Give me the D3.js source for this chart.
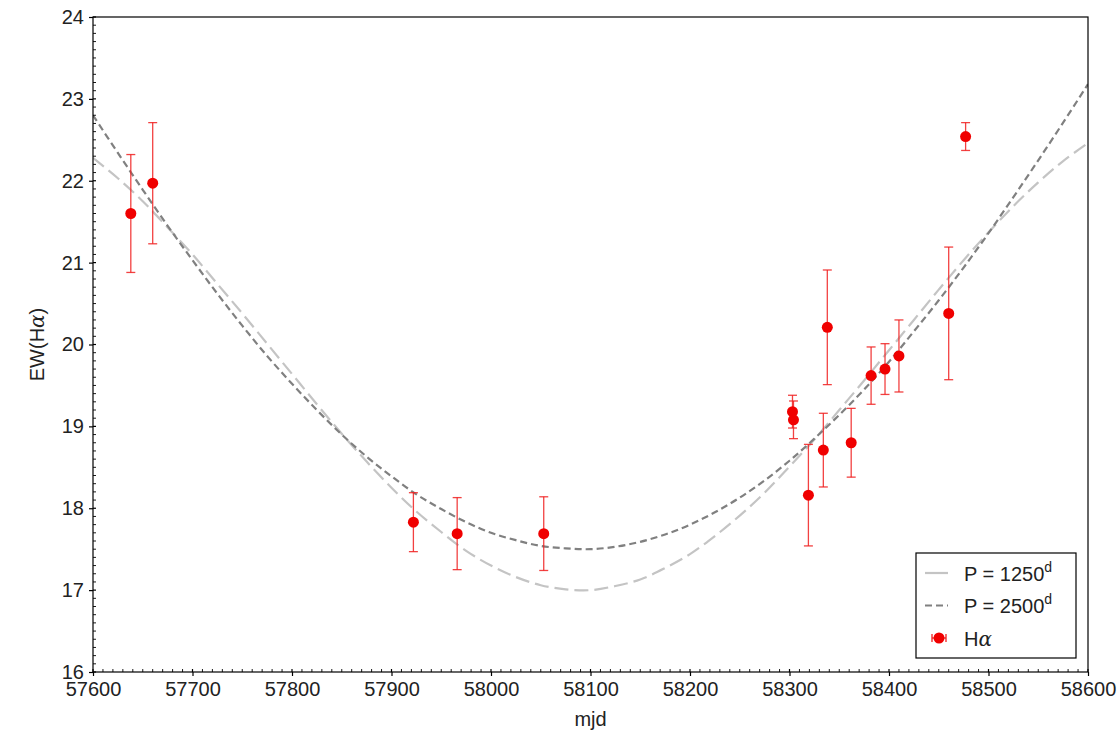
<!DOCTYPE html>
<html>
<head>
<meta charset="utf-8">
<script src="https://cdn.jsdelivr.net/npm/d3@7"></script>
<style>
  html, body { margin: 0; padding: 0; background: #fff; }
  svg text { font-family: "Liberation Sans", Arial, sans-serif; fill: #222; }
</style>
</head>
<body>
<svg id="chart" width="1118" height="734"></svg>
<script>
// ---- data ----
const obsMjd = [57638, 57660, 57922, 57966, 58053, 58303, 58304, 58319, 58334, 58338, 58362, 58382, 58396, 58410, 58460, 58477];
const obsEw  = [21.60, 21.97, 17.83, 17.69, 17.69, 19.18, 19.08, 18.16, 18.71, 20.21, 18.80, 19.62, 19.70, 19.86, 20.38, 22.54];
const obsErr = [0.72, 0.74, 0.36, 0.44, 0.45, 0.20, 0.23, 0.62, 0.45, 0.70, 0.42, 0.35, 0.31, 0.44, 0.81, 0.17];

const curveMjd = [57600,57625,57650,57675,57700,57725,57750,57775,57800,57825,57850,57875,57900,57925,57950,57975,58000,58025,58050,58075,58100,58125,58150,58175,58200,58225,58250,58275,58300,58325,58350,58375,58400,58425,58450,58475,58500,58525,58550,58575,58600];
const fit1250 = [22.28,22.03,21.75,21.43,21.10,20.74,20.38,20.01,19.64,19.27,18.91,18.57,18.25,17.96,17.71,17.48,17.30,17.16,17.06,17.01,17.00,17.05,17.13,17.27,17.44,17.66,17.91,18.19,18.51,18.84,19.20,19.56,19.93,20.30,20.67,21.03,21.37,21.69,21.98,22.24,22.46];
const fit2500 = [22.80,22.34,21.89,21.45,21.03,20.62,20.23,19.86,19.52,19.20,18.90,18.63,18.39,18.17,17.99,17.83,17.70,17.61,17.54,17.51,17.50,17.53,17.59,17.68,17.80,17.95,18.13,18.34,18.58,18.85,19.14,19.45,19.79,20.16,20.54,20.94,21.36,21.80,22.25,22.71,23.18];

const xTicks = [57600,57700,57800,57900,58000,58100,58200,58300,58400,58500,58600];
const yTicks = [16,17,18,19,20,21,22,23,24];

// ---- layout ----
const svg = d3.select("#chart");
const L = 93, R = 1088, T = 17, B = 672;
const x = d3.scaleLinear().domain([57600, 58600]).range([L, R]);
const y = d3.scaleLinear().domain([16, 24]).range([B, T]);

const plot = svg.append("g");
plot.append("clipPath").attr("id", "clip").append("rect")
  .attr("x", L).attr("y", T).attr("width", R - L).attr("height", B - T);

// fit curves
const line1 = d3.line().x((d, i) => x(curveMjd[i])).y(d => y(d)).curve(d3.curveCatmullRom);
plot.append("path").datum(fit1250).attr("d", line1)
  .attr("clip-path", "url(#clip)")
  .attr("fill", "none").attr("stroke", "#c4c4c4").attr("stroke-width", 2.2)
  .attr("stroke-dasharray", "14,6");
plot.append("path").datum(fit2500).attr("d", line1)
  .attr("clip-path", "url(#clip)")
  .attr("fill", "none").attr("stroke", "#808080").attr("stroke-width", 2.2)
  .attr("stroke-dasharray", "7,4");

// error bars
const eb = plot.append("g").attr("stroke", "#f02020").attr("stroke-width", 1.3).attr("stroke-opacity", 0.85);
obsMjd.forEach((m, i) => {
  const cx = x(m), y1 = y(obsEw[i] + obsErr[i]), y0 = y(obsEw[i] - obsErr[i]);
  eb.append("line").attr("x1", cx).attr("x2", cx).attr("y1", y1).attr("y2", y0);
  eb.append("line").attr("x1", cx - 4.5).attr("x2", cx + 4.5).attr("y1", y1).attr("y2", y1);
  eb.append("line").attr("x1", cx - 4.5).attr("x2", cx + 4.5).attr("y1", y0).attr("y2", y0);
});
plot.append("g").selectAll("circle").data(obsMjd).join("circle")
  .attr("cx", d => x(d)).attr("cy", (d, i) => y(obsEw[i])).attr("r", 5.5)
  .attr("fill", "#f00000");

// frame
svg.append("rect").attr("x", L).attr("y", T).attr("width", R - L).attr("height", B - T)
  .attr("fill", "none").attr("stroke", "#000").attr("stroke-width", 1.2);

// axes
const xAxis = svg.append("g").attr("transform", `translate(0,${B})`)
  .call(d3.axisBottom(x).tickValues(xTicks).tickFormat(d3.format("d")).tickSize(4).tickPadding(6));
const yAxis = svg.append("g").attr("transform", `translate(${L},0)`)
  .call(d3.axisLeft(y).tickValues(yTicks).tickFormat(d3.format("d")).tickSize(4).tickPadding(5));
[xAxis, yAxis].forEach(a => {
  a.select(".domain").remove();
  a.selectAll("text").attr("font-size", 20).attr("font-family", "Liberation Sans, Arial, sans-serif").attr("fill", "#222");
  a.selectAll(".tick line").attr("stroke", "#000").attr("stroke-width", 1.2);
});
// major ticks also extend inward
svg.append("g").selectAll("line").data(xTicks).join("line")
  .attr("x1", d => x(d)).attr("x2", d => x(d)).attr("y1", B).attr("y2", B - 3)
  .attr("stroke", "#000").attr("stroke-width", 1.2);
svg.append("g").selectAll("line").data(yTicks).join("line")
  .attr("x1", L).attr("x2", L + 3).attr("y1", d => y(d)).attr("y2", d => y(d))
  .attr("stroke", "#000").attr("stroke-width", 1.2);
// minor ticks (inward)
const xMinor = d3.range(57600, 58601, 10).filter(v => v % 100 !== 0);
const yMinor = d3.range(160, 241, 1).filter(v => v % 10 !== 0).map(v => v / 10);
svg.append("g").selectAll("line").data(xMinor).join("line")
  .attr("x1", d => x(d)).attr("x2", d => x(d)).attr("y1", B).attr("y2", B - 3)
  .attr("stroke", "#000").attr("stroke-width", 0.9);
svg.append("g").selectAll("line").data(yMinor).join("line")
  .attr("x1", L).attr("x2", L + 3).attr("y1", d => y(d)).attr("y2", d => y(d))
  .attr("stroke", "#000").attr("stroke-width", 0.9);

// axis labels
svg.append("text").attr("x", (L + R) / 2).attr("y", 726).attr("text-anchor", "middle")
  .attr("font-size", 20).text("mjd");
const yl = svg.append("text").attr("transform", `translate(44,${(T + B) / 2}) rotate(-90)`)
  .attr("text-anchor", "middle").attr("font-size", 20);
yl.append("tspan").text("EW(H");
yl.append("tspan").attr("font-style", "italic").attr("font-family", "DejaVu Serif, serif").text("α");
yl.append("tspan").text(")");

// legend
const lg = svg.append("g");
lg.append("rect").attr("x", 916).attr("y", 553).attr("width", 160).attr("height", 105)
  .attr("fill", "#fff").attr("stroke", "#000").attr("stroke-width", 1.2);
lg.append("line").attr("x1", 925).attr("x2", 948).attr("y1", 573).attr("y2", 573)
  .attr("stroke", "#c4c4c4").attr("stroke-width", 2.2);
lg.append("line").attr("x1", 925).attr("x2", 948).attr("y1", 605.5).attr("y2", 605.5)
  .attr("stroke", "#808080").attr("stroke-width", 2.2).attr("stroke-dasharray", "7,4");
const hx = 939, hy = 638;
lg.append("line").attr("x1", hx - 7).attr("x2", hx + 7).attr("y1", hy).attr("y2", hy)
  .attr("stroke", "#f02020").attr("stroke-width", 1.3);
lg.append("line").attr("x1", hx - 7).attr("x2", hx - 7).attr("y1", hy - 4).attr("y2", hy + 4)
  .attr("stroke", "#f02020").attr("stroke-width", 1.3);
lg.append("line").attr("x1", hx + 7).attr("x2", hx + 7).attr("y1", hy - 4).attr("y2", hy + 4)
  .attr("stroke", "#f02020").attr("stroke-width", 1.3);
lg.append("circle").attr("cx", hx).attr("cy", hy).attr("r", 5.5).attr("fill", "#f00000");

const lt = [["P = 1250", "d", 580.5], ["P = 2500", "d", 613]];
lt.forEach(([main, sup, yy]) => {
  const t = lg.append("text").attr("x", 964).attr("y", yy).attr("font-size", 20);
  t.append("tspan").text(main);
  t.append("tspan").attr("font-size", 14).attr("dy", -9).text(sup);
});
const ht = lg.append("text").attr("x", 964).attr("y", 645.5).attr("font-size", 20);
ht.append("tspan").text("H");
ht.append("tspan").attr("font-style", "italic").attr("font-family", "DejaVu Serif, serif").text("α");
</script>
</body>
</html>
